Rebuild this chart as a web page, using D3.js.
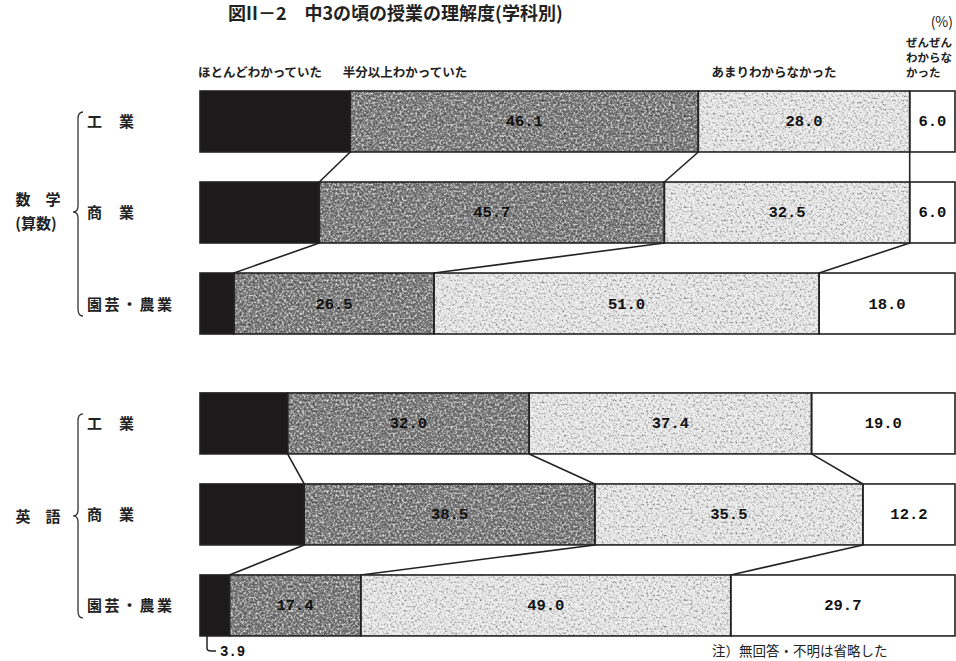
<!DOCTYPE html>
<html><head><meta charset="utf-8">
<script src="https://cdn.jsdelivr.net/npm/d3@7"></script>
<style>
html,body{margin:0;padding:0;background:#fff;}
svg{display:block;}
text{font-family:"Noto Sans CJK JP","Noto Sans",sans-serif;fill:#222;}
.num{font-family:"Liberation Mono","DejaVu Sans Mono",monospace;font-weight:bold;fill:#111;}
</style></head>
<body>
<script>
// ---- data ----
const titleText = "図II－2　中3の頃の授業の理解度(学科別)";
const seriesNames = ["ほとんどわかっていた","半分以上わかっていた","あまりわからなかった","ぜんぜんわからなかった"];
const groups = ["数学", "英語"];
const groupLabels = [["数　学","(算数)"],["英　語"]];
const categories = ["工　業","商　業","園芸・農業"];
const mathValues = [
  [19.9, 46.1, 28.0, 6.0],
  [15.8, 45.7, 32.5, 6.0],
  [4.5, 26.5, 51.0, 18.0]
];
const englishValues = [
  [11.6, 32.0, 37.4, 19.0],
  [13.8, 38.5, 35.5, 12.2],
  [3.9, 17.4, 49.0, 29.7]
];
const valueLabels = [
  [[null,"46.1","28.0","6.0"],[null,"45.7","32.5","6.0"],[null,"26.5","51.0","18.0"]],
  [[null,"32.0","37.4","19.0"],[null,"38.5","35.5","12.2"],[null,"17.4","49.0","29.7"]]
];
const lastSeriesLines = ["ぜんぜん","わからな","かった"];
const outsideLabel = "3.9";
const unitText = "(%)";
const noteText = "注）無回答・不明は省略した";

const W = 956, H = 661;
const svg = d3.select("body").append("svg").attr("width", W).attr("height", H);

const defs = svg.append("defs");
const f = defs.append("filter").attr("id","grain").attr("x",0).attr("y",0).attr("width","100%").attr("height","100%");
f.append("feTurbulence").attr("type","fractalNoise").attr("baseFrequency","0.45").attr("numOctaves",3).attr("seed",7).attr("result","noise");
f.append("feColorMatrix").attr("in","noise").attr("type","matrix")
  .attr("values","1 0 0 0 0  1 0 0 0 0  1 0 0 0 0  0 0 0 0 1").attr("result","gn");
f.append("feBlend").attr("in","SourceGraphic").attr("in2","gn").attr("mode","overlay").attr("result","bl");
f.append("feComposite").attr("in","bl").attr("in2","SourceGraphic").attr("operator","in");

const colors = ["#1c1a1a","#7a7a7a","#e6e6e6","#ffffff"];
const useGrain = [false,true,true,false];

const x = d3.scaleLinear().domain([0,100]).range([200,955]);
const yGroup = d3.scaleBand().domain(groups).range([91,636]).paddingInner(0.195);
const yRow = d3.scaleBand().domain(categories).range([0,243]).paddingInner(0.33);

// title
svg.append("text").attr("x",228).attr("y",20).attr("font-size",18).attr("font-weight","bold")
  .text(titleText);
svg.append("text").attr("x",953).attr("y",27).attr("text-anchor","end").attr("font-size",14).text(unitText);

// header labels
const hdr = svg.append("g").attr("font-size",12.5).attr("font-weight","bold");
hdr.append("text").attr("x",198).attr("y",77).text(seriesNames[0]);
hdr.append("text").attr("x",405).attr("y",77).attr("text-anchor","middle").text(seriesNames[1]);
hdr.append("text").attr("x",774).attr("y",77).attr("text-anchor","middle").text(seriesNames[2]);
lastSeriesLines.forEach((s,i)=> hdr.append("text").attr("x",906).attr("y",47+i*15).attr("font-size",11.5).text(s));

const allValues = [mathValues, englishValues];

allValues.forEach((vals, gi) => {
  const g = svg.append("g").attr("transform",`translate(0,${yGroup(groups[gi])})`);
  const bw = yRow.bandwidth();
  const rows = vals.map((v,ri) => {
    let c = 0;
    const segs = v.map((d,si) => { const s = {x0:c, x1:c+d, si, ri}; c += d; return s; });
    return {cat: categories[ri], segs};
  });
  for (let ri=0; ri<rows.length-1; ri++) {
    const a = rows[ri], b = rows[ri+1];
    for (let k=1; k<4; k++) {
      g.append("line")
        .attr("x1", x(a.segs[k].x0)).attr("y1", yRow(a.cat)+bw)
        .attr("x2", x(b.segs[k].x0)).attr("y2", yRow(b.cat))
        .attr("stroke","#222").attr("stroke-width",1.6);
    }
  }
  rows.forEach((r) => {
    const rg = g.append("g").attr("transform",`translate(0,${yRow(r.cat)})`);
    rg.selectAll("rect.fill").data(r.segs).enter().append("rect")
      .attr("x", d=>x(d.x0)).attr("y",0).attr("width", d=>x(d.x1)-x(d.x0)).attr("height",bw)
      .attr("fill", d=>colors[d.si])
      .attr("filter", d=> useGrain[d.si] ? "url(#grain)" : null);
    rg.selectAll("rect.out").data(r.segs).enter().append("rect")
      .attr("x", d=>x(d.x0)).attr("y",0).attr("width", d=>x(d.x1)-x(d.x0)).attr("height",bw)
      .attr("fill","none").attr("stroke","#222").attr("stroke-width",1.6);
    rg.selectAll("text.v").data(r.segs.filter(d=>valueLabels[gi][d.ri][d.si])).enter().append("text")
      .attr("class","num")
      .attr("x", d=> (x(d.x0)+x(d.x1))/2).attr("y", bw/2+5)
      .attr("text-anchor","middle").attr("font-size",15.5)
      .text(d=>valueLabels[gi][d.ri][d.si]);
    rg.append("text").attr("x",87).attr("y",bw/2+6).attr("font-size",15).attr("font-weight","bold")
      .attr("letter-spacing", r.cat.length>3 ? 2.5 : 1).text(r.cat);
  });
  const top = yRow(categories[0]) + 21, bot = yRow(categories[2]) + bw - 18, mid = (top+bot)/2 + (gi===0?-2:0);
  const bx = 78;
  g.append("path")
    .attr("d", `M${bx+5},${top} Q${bx},${top} ${bx},${top+7} L${bx},${mid-6} Q${bx},${mid} ${bx-5},${mid} Q${bx},${mid} ${bx},${mid+6} L${bx},${bot-7} Q${bx},${bot} ${bx+5},${bot}`)
    .attr("fill","none").attr("stroke","#333").attr("stroke-width",1.3);
  const gl = groupLabels[gi];
  if (gl.length===2) {
    g.append("text").attr("x",38).attr("y",mid-7).attr("text-anchor","middle").attr("font-size",15).attr("font-weight","bold").text(gl[0]);
    g.append("text").attr("x",36).attr("y",mid+17).attr("text-anchor","middle").attr("font-size",15).attr("font-weight","bold").text(gl[1]);
  } else {
    g.append("text").attr("x",38).attr("y",mid+6).attr("text-anchor","middle").attr("font-size",15).attr("font-weight","bold").text(gl[0]);
  }
  if (gi===1) {
    const d = rows[2].segs[0];
    const lx = x(d.x0)+7, ly = yRow(rows[2].cat)+bw;
    g.append("path").attr("d",`M${lx},${ly} L${lx},${ly+12} Q${lx},${ly+15} ${lx+4},${ly+15} L${lx+9},${ly+15}`)
      .attr("fill","none").attr("stroke","#222").attr("stroke-width",1.5);
    g.append("text").attr("class","num").attr("x",lx+13).attr("y",ly+20).attr("font-size",14).text(outsideLabel);
  }
});

svg.append("text").attr("x",712).attr("y",656).attr("font-size",13.5).text(noteText);
</script>
</body></html>
